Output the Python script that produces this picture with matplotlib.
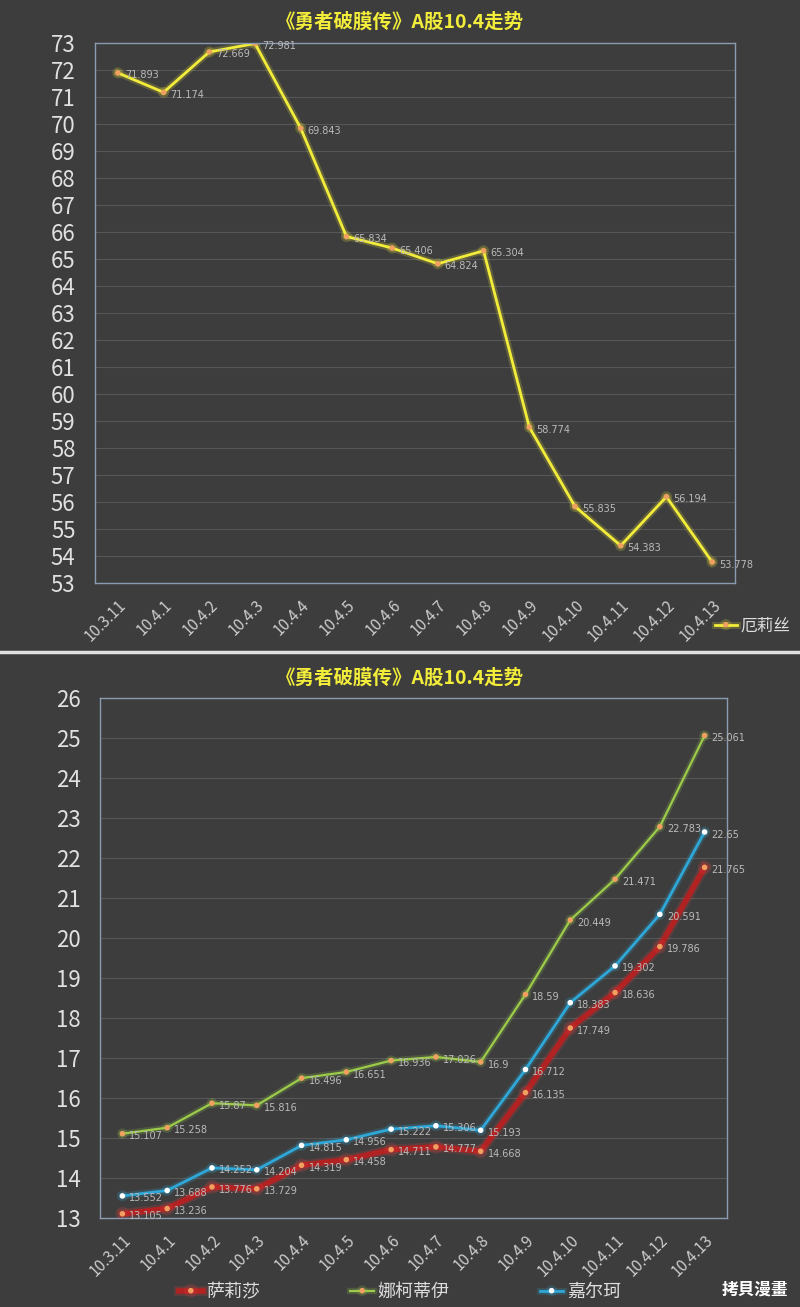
import matplotlib.pyplot as plt
import matplotlib.patheffects as pe
from matplotlib.lines import Line2D

plt.rcParams['font.family'] = ['Noto Sans CJK SC', 'DejaVu Sans']

BG = '#3d3d3d'
dates = ['10.3.11', '10.4.1', '10.4.2', '10.4.3', '10.4.4', '10.4.5', '10.4.6',
         '10.4.7', '10.4.8', '10.4.9', '10.4.10', '10.4.11', '10.4.12', '10.4.13']
elise = [71.893, 71.174, 72.669, 72.981, 69.843, 65.834, 65.406, 64.824, 65.304,
         58.774, 55.835, 54.383, 56.194, 53.778]
salisha = [13.105, 13.236, 13.776, 13.729, 14.319, 14.458, 14.711, 14.777, 14.668,
           16.135, 17.749, 18.636, 19.786, 21.765]
nuoke = [15.107, 15.258, 15.87, 15.816, 16.496, 16.651, 16.936, 17.026, 16.9,
         18.59, 20.449, 21.471, 22.783, 25.061]
jiaer = [13.552, 13.688, 14.252, 14.204, 14.815, 14.956, 15.222, 15.306, 15.193,
         16.712, 18.383, 19.302, 20.591, 22.65]
title = '《勇者破膜传》A股10.4走势'

W, H = 800, 1307
fig = plt.figure(figsize=(8, 13.07), dpi=100, facecolor=BG)
fig.add_artist(Line2D([0, 1], [1 - 652 / H, 1 - 652 / H], color='#e0e0e0', lw=2.5))


def px_axes(l, t, r, b):
    return fig.add_axes([l / W, 1 - b / H, (r - l) / W, (b - t) / H])


def style_axes(ax, lo, hi):
    ax.set_facecolor(BG)
    ax.set_ylim(lo, hi)
    ax.set_xlim(-0.5, len(dates) - 0.5)
    ax.set_yticks(range(lo, hi + 1))
    ax.tick_params(axis='y', colors='#e0e0e0', labelsize=16, length=0, pad=14)
    ax.set_xticks(range(len(dates)))
    ax.set_xticklabels(dates, rotation=45, ha='right', rotation_mode='anchor')
    ax.tick_params(axis='x', colors='#cccccc', labelsize=11, length=0, pad=10)
    ax.grid(axis='y', color='#575757', lw=0.8)
    ax.set_axisbelow(True)
    for s in ax.spines.values():
        s.set_color('#8a9bb0')
        s.set_linewidth(1)


def plot_series(ax, vals, color, mcolor, lw, glow, label):
    x = range(len(vals))
    line, = ax.plot(x, vals, color=color, lw=lw, marker='o', ms=3, mfc=mcolor, mec=mcolor,
                    label=label,
                    path_effects=[pe.Stroke(linewidth=lw + 3, foreground=glow, alpha=0.2), pe.Normal()])
    for i, v in enumerate(vals):
        ax.annotate(f'{v:g}', (i, v), xytext=(5, -4), textcoords='offset points',
                    fontsize=7, color='#bbbbbb', family='DejaVu Sans')
    return line


# top chart
ax1 = px_axes(95, 43, 735, 583)
style_axes(ax1, 53, 73)
l1 = plot_series(ax1, elise, '#f2ec3a', '#f0a060', 2, '#f2ec3a', '厄莉丝')
fig.legend(handles=[l1], loc='center left', bbox_to_anchor=(700 / W, 1 - 626 / H), frameon=False,
           labelcolor='#dddddd', fontsize=12, handlelength=1.3, handletextpad=0.2)
fig.text(0.5, 1 - 22 / H, title, ha='center', va='center', color='#f2ec3a', fontsize=14, fontweight='bold')

# bottom chart
ax2 = px_axes(100, 698, 727, 1218)
style_axes(ax2, 13, 26)
l2 = plot_series(ax2, salisha, '#b22222', '#f0a060', 4, '#e04040', '萨莉莎')
l3 = plot_series(ax2, nuoke, '#9ccc4a', '#f0a060', 1.6, '#9ccc4a', '娜柯蒂伊')
l4 = plot_series(ax2, jiaer, '#2ea8d8', '#ffffff', 2, '#2ea8d8', '嘉尔珂')
fig.legend(handles=[l2, l3, l4], loc='center', bbox_to_anchor=(0.5, 1 - 1292 / H), ncol=3, frameon=False,
           labelcolor='#dddddd', fontsize=13, columnspacing=5, handlelength=1.3, handletextpad=0.2)
fig.text(0.5, 1 - 678 / H, title, ha='center', va='center', color='#f2ec3a', fontsize=14, fontweight='bold')
fig.text(0.985, 1 - 1290 / H, '拷貝漫畫', ha='right', va='center', color='white', fontsize=12, fontweight='bold')

fig.savefig('out.png', dpi=100, facecolor=BG)
